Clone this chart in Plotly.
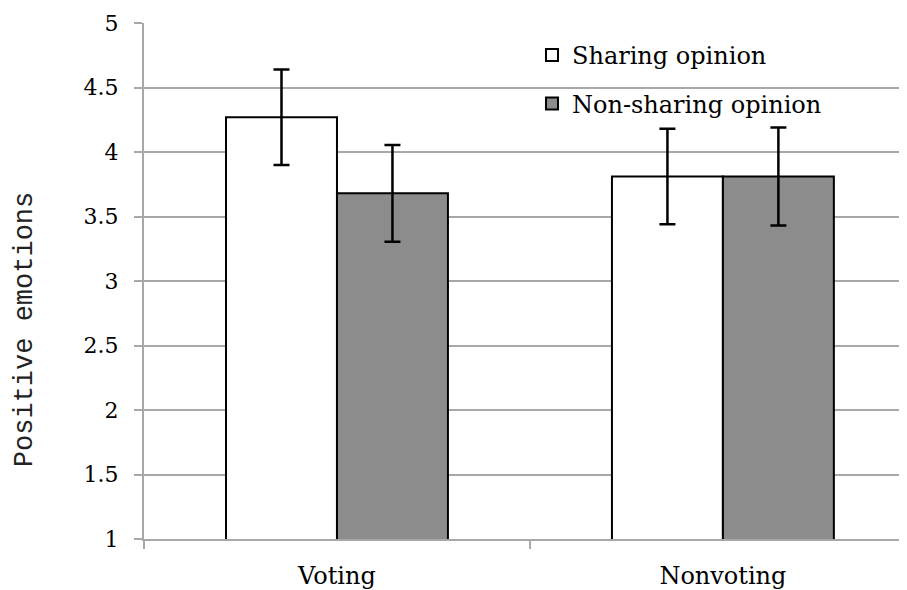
import plotly.graph_objects as go

categories = ["Voting", "Nonvoting"]
sharing = [4.27, 3.81]
sharing_err = [0.37, 0.37]
nonsharing = [3.68, 3.81]
nonsharing_err = [0.375, 0.38]
y_ticks = [1, 1.5, 2, 2.5, 3, 3.5, 4, 4.5, 5]
y_tick_labels = ["1", "1.5", "2", "2.5", "3", "3.5", "4", "4.5", "5"]

serif = "DejaVu Serif, serif"
grid = "#a8a8a8"

fig = go.Figure()
fig.add_trace(go.Bar(
    name="Sharing opinion", x=categories, y=sharing,
    marker=dict(color="white", line=dict(color="black", width=2)),
    error_y=dict(type="data", array=sharing_err, color="black", thickness=2.5, width=8),
    legend="legend", showlegend=True,
))
fig.add_trace(go.Bar(
    name="Non-sharing opinion", x=categories, y=nonsharing,
    marker=dict(color="#8c8c8c", line=dict(color="black", width=2)),
    error_y=dict(type="data", array=nonsharing_err, color="black", thickness=2.5, width=8),
    legend="legend2", showlegend=True,
))

fig.update_layout(
    width=899, height=582,
    margin=dict(l=136, r=0, t=15, b=51, autoexpand=False),
    paper_bgcolor="white", plot_bgcolor="white",
    barmode="group", bargap=0.425, bargroupgap=0,
    showlegend=True,
    font=dict(family=serif, size=22, color="black"),
    legend=dict(x=0.5085, y=0.937, xanchor="left", yanchor="middle",
                bgcolor="rgba(0,0,0,0)", font=dict(size=24, family=serif)),
    legend2=dict(x=0.5085, y=0.843, xanchor="left", yanchor="middle",
                 bgcolor="rgba(0,0,0,0)", font=dict(size=24, family=serif)),
    annotations=[dict(
        text="Positive emotions", xref="paper", yref="paper",
        x=-0.156, y=0.4066, xanchor="center", yanchor="middle",
        textangle=-90, showarrow=False,
        font=dict(size=27, family="Liberation Mono, monospace", color="#222222"),
    )],
)
fig.update_yaxes(
    range=[1, 5], tickvals=y_ticks, ticktext=y_tick_labels,
    showgrid=True, gridcolor=grid, gridwidth=2,
    showline=True, linecolor=grid, linewidth=2,
    ticks="outside", ticklen=8, tickcolor=grid, tickwidth=2,
    ticklabelstandoff=11,
    tickfont=dict(size=22, family=serif),
    zeroline=False,
)
fig.update_xaxes(
    range=[-0.5, 1.477],
    showline=True, linecolor=grid, linewidth=2,
    ticks="outside", ticklen=8, tickcolor=grid, tickwidth=2,
    tickson="boundaries",
    ticklabelstandoff=14,
    tickfont=dict(size=24, family=serif),
)

fig.write_html("out.html")
